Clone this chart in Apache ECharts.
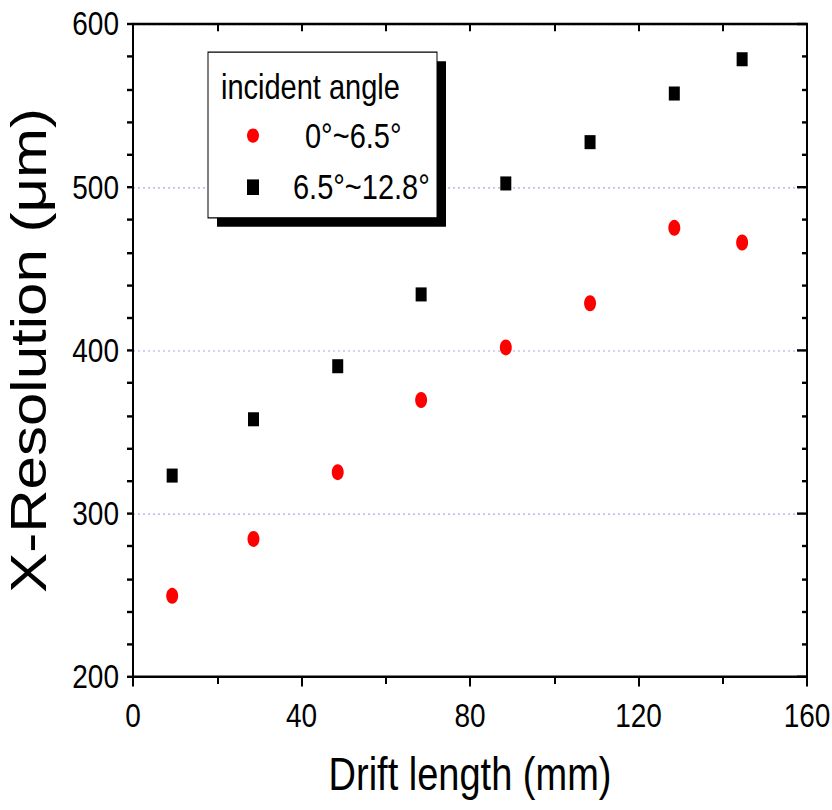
<!DOCTYPE html>
<html><head><meta charset="utf-8">
<script src="https://cdn.jsdelivr.net/npm/echarts@6/dist/echarts.min.js"></script>
<style>
html,body{margin:0;padding:0;background:#fff;width:832px;height:810px}
#c{width:832px;height:675px;transform:scale(1,1.2);transform-origin:0 0}
</style>
</head><body><div id="c"></div>
<script>
// ---- data ----
const driftLength = [9.3, 28.6, 48.6, 68.4, 88.5, 108.5, 128.5, 144.6];
const resLowAngle = [249.6, 284.5, 325.4, 369.6, 401.8, 428.9, 475.1, 466.1];
const resHighAngle = [323.3, 357.8, 390.3, 434.3, 502.3, 527.6, 557.4, 578.4];
const seriesNames = ['0°~6.5°', '6.5°~12.8°'];
const legendTitle = 'incident angle';
const xName = 'Drift length (mm)';
const yName = 'X-Resolution (μm)';
const xRange = [0, 160], xStep = 40;
const yRange = [200, 600], yStep = 100;

const FONT = "'Liberation Sans', Arial, sans-serif";

const chart = echarts.init(document.getElementById('c'), null, {renderer: 'svg'});
const axisLine = {show: true, onZero: false, lineStyle: {color: '#000', width: 2}};
const pair = (xs, ys) => xs.map((x, i) => [x, ys[i]]);

chart.setOption({
  animation: false,
  backgroundColor: '#fff',
  grid: {left: 133, right: 25, top: 20, bottom: 111, containLabel: false, outerBoundsMode: 'none'},
  title: {
    text: legendTitle, left: 221, top: 58, padding: 0, z: 30,
    textStyle: {fontFamily: FONT, fontSize: 29, fontWeight: 'normal', color: '#000'}
  },
  legend: {
    orient: 'vertical', left: 247, top: 97, padding: 0, itemGap: 11, z: 30,
    itemWidth: 12, itemHeight: 13,
    data: [
      {name: seriesNames[0], textStyle: {padding: [0, 0, 0, 41]}},
      {name: seriesNames[1], textStyle: {padding: [0, 0, 0, 29]}}
    ],
    textStyle: {fontFamily: FONT, fontSize: 29, color: '#000', lineHeight: 32}
  },
  graphic: [
    {type: 'rect', z: 20, shape: {x: 217, y: 51, width: 229, height: 138}, style: {fill: '#000'}},
    {type: 'rect', z: 21, shape: {x: 208, y: 43.5, width: 229, height: 138}, style: {fill: '#fff', stroke: '#000', lineWidth: 1}}
  ],
  xAxis: [
    {
      type: 'value', position: 'bottom', min: xRange[0], max: xRange[1], interval: xStep,
      name: xName, nameLocation: 'middle', nameGap: 62,
      nameTextStyle: {fontFamily: FONT, fontSize: 38, color: '#000'},
      axisLine: axisLine,
      axisTick: {show: true, inside: false, length: 8, lineStyle: {color: '#000', width: 2}},
      minorTick: {show: true, splitNumber: 2, length: 6, lineStyle: {color: '#000', width: 2}},
      axisLabel: {fontFamily: FONT, fontSize: 28, color: '#000', margin: 18},
      splitLine: {show: false}
    },
    {
      type: 'value', position: 'top', min: xRange[0], max: xRange[1], interval: xStep,
      axisLine: axisLine,
      axisTick: {show: true, inside: true, length: 6, lineStyle: {color: '#000', width: 2}},
      minorTick: {show: true, splitNumber: 2, length: 6, lineStyle: {color: '#000', width: 2}},
      axisLabel: {show: false}, splitLine: {show: false}
    }
  ],
  yAxis: [
    {
      type: 'value', position: 'left', min: yRange[0], max: yRange[1], interval: yStep,
      name: yName, nameLocation: 'middle', nameGap: 79,
      nameTextStyle: {fontFamily: FONT, fontSize: 50, color: '#000'},
      axisLine: axisLine,
      axisTick: {show: true, inside: false, length: 6, lineStyle: {color: '#000', width: 2}},
      minorTick: {show: true, splitNumber: 5, length: 6, lineStyle: {color: '#000', width: 2}},
      axisLabel: {fontFamily: FONT, fontSize: 28, color: '#000', margin: 14},
      splitLine: {show: true, lineStyle: {color: '#a4a8ec', width: 1, type: [2, 3]}}
    },
    {
      type: 'value', position: 'right', min: yRange[0], max: yRange[1], interval: yStep,
      axisLine: axisLine,
      axisTick: {show: true, inside: true, length: 10, lineStyle: {color: '#000', width: 2}},
      minorTick: {show: true, splitNumber: 5, length: 5, lineStyle: {color: '#000', width: 2}},
      axisLabel: {show: false}, splitLine: {show: false}
    }
  ],
  series: [
    {
      name: seriesNames[0], type: 'scatter', xAxisIndex: 0, yAxisIndex: 0,
      symbol: 'circle', symbolSize: [12, 13.3], itemStyle: {color: '#ff0000', opacity: 1},
      data: pair(driftLength, resLowAngle)
    },
    {
      name: seriesNames[1], type: 'scatter', xAxisIndex: 0, yAxisIndex: 0,
      symbol: 'rect', symbolSize: [11, 11.7], itemStyle: {color: '#000', opacity: 1},
      data: pair(driftLength, resHighAngle)
    }
  ]
});
</script></body></html>
